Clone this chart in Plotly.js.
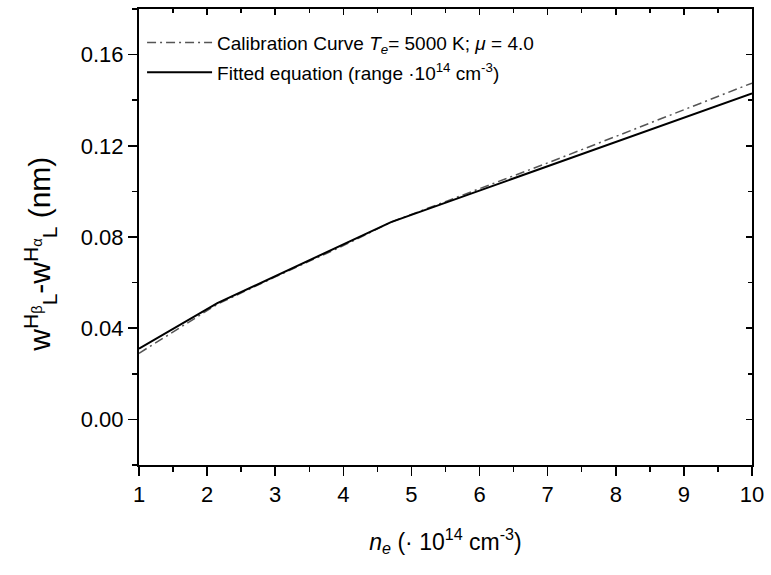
<!DOCTYPE html>
<html>
<head>
<meta charset="utf-8">
<script src="https://cdn.plot.ly/plotly-3.0.1.min.js"></script>
<style>html,body{margin:0;padding:0;background:#fff;}#chart{width:771px;height:575px;}</style>
</head>
<body>
<div id="chart"></div>
<script>
// Calibration curve (Te = 5000 K, mu = 4.0)
var calibNe = [1, 2.15, 3, 4, 4.7, 6, 7, 8, 9, 10];
var calibW  = [0.029, 0.0505, 0.0625, 0.0762, 0.0865, 0.101, 0.1125, 0.1241, 0.1358, 0.1475];
// Fitted equation
var fitNe = [1, 2.15, 4.7, 10];
var fitW  = [0.031, 0.051, 0.0865, 0.143];

var xRange = [1, 10];
var yRange = [-0.02, 0.18];
var xTicks = [1, 2, 3, 4, 5, 6, 7, 8, 9, 10];
var yTicks = [0.00, 0.04, 0.08, 0.12, 0.16];
var yTickText = ['0.00', '0.04', '0.08', '0.12', '0.16'];

var font = 'Liberation Sans, Arial, Helvetica, sans-serif';

var traces = [
  {
    x: calibNe, y: calibW, type: 'scatter', mode: 'lines',
    name: 'Calibration Curve <i>T<sub>e</sub></i>= 5000 K; <i>μ</i> = 4.0',
    line: {color: '#555555', width: 1.5, dash: '9px,4px,2px,4px'},
    legendgroup: 'a', hoverinfo: 'x+y'
  },
  {
    x: fitNe, y: fitW, type: 'scatter', mode: 'lines',
    name: 'Fitted equation (range ·10<sup>14</sup> cm<sup>-3</sup>)',
    line: {color: '#000000', width: 2},
    legendgroup: 'b', hoverinfo: 'x+y'
  },
  {
    // empty helper traces so the top and right frame axes (inward ticks) are drawn
    x: [null], y: [null], xaxis: 'x2', yaxis: 'y', type: 'scatter', mode: 'lines',
    showlegend: false, hoverinfo: 'skip'
  },
  {
    x: [null], y: [null], xaxis: 'x', yaxis: 'y2', type: 'scatter', mode: 'lines',
    showlegend: false, hoverinfo: 'skip'
  }
];

var axCommon = {
  showgrid: false, zeroline: false, showline: true,
  linecolor: '#000', linewidth: 2, tickcolor: '#000', tickwidth: 1.5
};

var layout = {
  width: 771, height: 575,
  margin: {l: 139, r: 19, t: 9, b: 110},
  paper_bgcolor: '#fff', plot_bgcolor: '#fff',
  font: {family: font, size: 22, color: '#000'},
  showlegend: true,
  legend: {
    x: 0.005, y: 0.968, xanchor: 'left', yanchor: 'top',
    bgcolor: 'rgba(0,0,0,0)', borderwidth: 0,
    font: {family: font, size: 19, color: '#000'},
    itemwidth: 65, tracegroupgap: 2
  },
  xaxis: Object.assign({}, axCommon, {
    range: xRange, tickmode: 'array', tickvals: xTicks,
    ticks: 'outside', ticklen: 9,
    minor: {dtick: 0.5, ticks: 'outside', ticklen: 5, tickcolor: '#000', tickwidth: 1.5},
    tickfont: {family: font, size: 22},
    title: {text: '<i>n<sub>e</sub></i> (· 10<sup>14</sup> cm<sup>-3</sup>)', font: {family: font, size: 23}, standoff: 27}
  }),
  yaxis: Object.assign({}, axCommon, {
    range: yRange, tickmode: 'array', tickvals: yTicks, ticktext: yTickText,
    ticks: 'outside', ticklen: 9,
    minor: {dtick: 0.02, ticks: 'outside', ticklen: 5, tickcolor: '#000', tickwidth: 1.5},
    tickfont: {family: font, size: 22},
    title: {text: 'w<sup>H<sub>β</sub></sup><sub>L</sub>-w<sup>H<sub>α</sub></sup><sub>L</sub> (nm)&nbsp;&nbsp;&nbsp;&nbsp;', font: {family: font, size: 30}, standoff: 21}
  }),
  xaxis2: Object.assign({}, axCommon, {
    overlaying: 'x', side: 'top', anchor: 'y', range: xRange,
    tickmode: 'array', tickvals: xTicks, ticks: 'inside', ticklen: 6, showticklabels: false,
    minor: {dtick: 0.5, ticks: 'inside', ticklen: 4, tickcolor: '#000', tickwidth: 1.5}
  }),
  yaxis2: Object.assign({}, axCommon, {
    overlaying: 'y', side: 'right', anchor: 'x', range: yRange,
    tickmode: 'array', tickvals: yTicks, ticks: 'inside', ticklen: 6, showticklabels: false,
    minor: {dtick: 0.02, ticks: 'inside', ticklen: 4, tickcolor: '#000', tickwidth: 1.5}
  })
};

Plotly.newPlot('chart', traces, layout, {displayModeBar: false, staticPlot: true});
</script>
</body>
</html>
